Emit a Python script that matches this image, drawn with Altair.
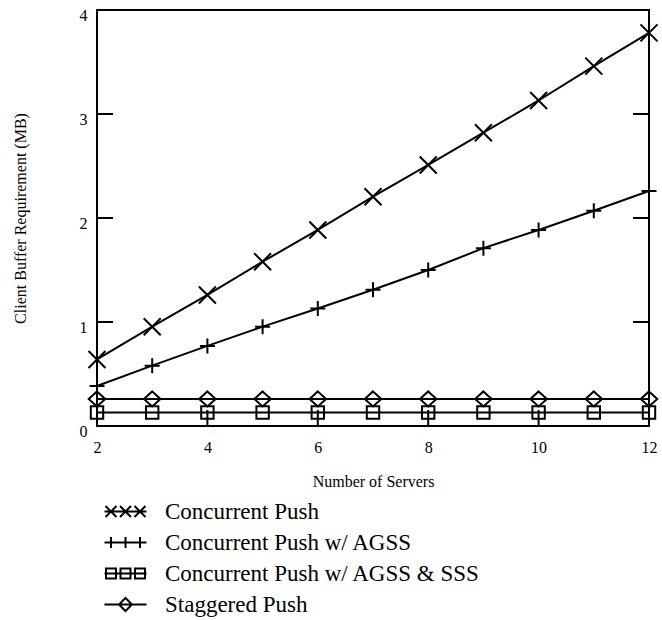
import altair as alt
import pandas as pd

servers = [2, 3, 4, 5, 6, 7, 8, 9, 10, 11, 12]
concurrent = [0.64, 0.955, 1.26, 1.58, 1.885, 2.205, 2.51, 2.82, 3.13, 3.46, 3.78]
concurrent_agss = [0.385, 0.58, 0.77, 0.955, 1.13, 1.31, 1.5, 1.71, 1.885, 2.07, 2.26]
concurrent_agss_sss = [0.13, 0.13, 0.13, 0.13, 0.13, 0.13, 0.13, 0.13, 0.13, 0.13, 0.13]
staggered = [0.26, 0.26, 0.26, 0.26, 0.26, 0.26, 0.26, 0.26, 0.26, 0.26, 0.26]

series_names = [
    "Concurrent Push",
    "Concurrent Push w/ AGSS",
    "Concurrent Push w/ AGSS & SSS",
    "Staggered Push",
]
x_tick_values = [2, 4, 6, 8, 10, 12]
y_tick_values = [0, 1, 2, 3, 4]
x_inner_ticks = [4, 6, 8, 10]
y_inner_ticks = [1, 2, 3]

rows = []
for name, vals in zip(series_names, [concurrent, concurrent_agss, concurrent_agss_sss, staggered]):
    for s, v in zip(servers, vals):
        rows.append({"servers": s, "buffer": v, "series": name})
df = pd.DataFrame(rows)

# marker glyphs (custom SVG paths)
marker_paths = [
    "M-0.85,-0.85L0.85,0.85M-0.85,0.85L0.85,-0.85",
    "M-0.75,0L0.75,0M0,-0.75L0,0.75",
    "M-0.62,-0.62L0.62,-0.62L0.62,0.62L-0.62,0.62Z",
    "M0,-0.75L0.83,0L0,0.75L-0.83,0Z",
]


def xs(cx, h):
    return f"M{cx-h},{-h}L{cx+h},{h}M{cx-h},{h}L{cx+h},{-h}"


def ps(cx, h):
    return f"M{cx-h},0L{cx+h},0M{cx},{-h}L{cx},{h}"


def sq(cx, h):
    return f"M{cx-h},{-h}L{cx+h},{-h}L{cx+h},{h}L{cx-h},{h}Z"


line_path = "M-4.2,0L4.2,0"
legend_paths = [
    line_path + xs(-2.9, 1.1) + xs(0, 1.1) + xs(2.9, 1.1),
    line_path + ps(-2.9, 1.1) + ps(0, 1.1) + ps(2.9, 1.1),
    line_path + sq(-2.9, 1.0) + sq(0, 1.0) + sq(2.9, 1.0),
    line_path + "M0,-1.3L1.3,0L0,1.3L-1.3,0Z",
]

x_enc = alt.X(
    "servers:Q",
    scale=alt.Scale(domain=[2, 12], nice=False, zero=False),
    axis=alt.Axis(
        values=x_tick_values,
        format="d",
        title="Number of Servers",
        titleX=276,
        titleY=55,
        titleBaseline="middle",
        labelPadding=13,
        labelFlush=False,
    ),
)
y_enc = alt.Y(
    "buffer:Q",
    scale=alt.Scale(domain=[0, 4], nice=False),
    axis=alt.Axis(
        values=y_tick_values,
        format="d",
        title="Client Buffer Requirement (MB)",
        titleX=-77,
        titleY=208,
        titleBaseline="middle",
        labelPadding=10,
        labelOffset=5,
        labelFlush=False,
    ),
)

base = alt.Chart(df)

lines = base.mark_line(color="black", strokeWidth=2).encode(
    x=x_enc, y=y_enc, detail="series:N"
)

points = base.mark_point(filled=False, color="black", strokeWidth=2, size=400, opacity=1).encode(
    x=x_enc,
    y=y_enc,
    shape=alt.Shape(
        "series:N",
        scale=alt.Scale(domain=series_names, range=marker_paths),
        legend=None,
    ),
)

legend_layer = (
    base.transform_filter("datum.servers < 0")
    .mark_point(filled=False, color="black", strokeWidth=2, size=100, opacity=1)
    .encode(
        x=x_enc,
        y=y_enc,
        shape=alt.Shape(
            "series:N",
            scale=alt.Scale(domain=series_names, range=legend_paths),
            legend=alt.Legend(
                title=None,
                orient="none",
                legendX=17,
                legendY=490,
                labelFontSize=23,
                labelFont="Liberation Serif",
                labelColor="black",
                labelOffset=28,
                symbolSize=100,
                symbolStrokeWidth=2,
                symbolStrokeColor="black",
                symbolFillColor="transparent",
                rowPadding=7,
                padding=0,
                labelLimit=400,
            ),
        ),
    )
)

ytick_df = pd.DataFrame({"v": y_inner_ticks})
xtick_df = pd.DataFrame({"v": x_inner_ticks})

yticks_left = alt.Chart(ytick_df).mark_rule(color="black", strokeWidth=2).encode(
    y=alt.Y("v:Q", scale=alt.Scale(domain=[0, 4], nice=False)),
    x=alt.value(0),
    x2=alt.value(16),
)
yticks_right = alt.Chart(ytick_df).mark_rule(color="black", strokeWidth=2).encode(
    y=alt.Y("v:Q", scale=alt.Scale(domain=[0, 4], nice=False)),
    x=alt.value(552),
    x2=alt.value(536),
)
xticks = alt.Chart(xtick_df).mark_rule(color="black", strokeWidth=2).encode(
    x=alt.X("v:Q", scale=alt.Scale(domain=[2, 12], nice=False, zero=False)),
    y=alt.value(416),
    y2=alt.value(400),
)

chart = (
    alt.layer(lines, points, legend_layer, yticks_left, yticks_right, xticks)
    .resolve_scale(shape="independent")
    .properties(
        width=552,
        height=416,
        autosize=alt.AutoSizeParams(type="none"),
        padding={"left": 97, "top": 10, "right": 13, "bottom": 194},
        background="white",
    )
    .configure(font="Liberation Serif")
    .configure_view(stroke="black", strokeWidth=2)
    .configure_axis(
        grid=False,
        domain=False,
        ticks=False,
        labelFontSize=16,
        labelColor="black",
        labelFont="Liberation Serif",
        titleFont="Liberation Serif",
        titleFontSize=16,
        titleFontWeight="normal",
        titleColor="black",
    )
)

chart.save("out.html", embed_options={"renderer": "svg", "actions": False})
